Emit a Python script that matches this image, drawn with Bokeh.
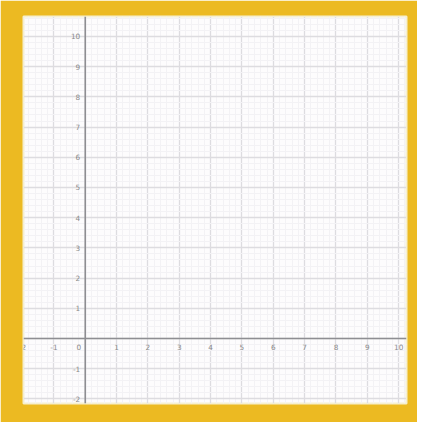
import numpy as np
from bokeh.plotting import figure
from bokeh.models import Span, FixedTicker, ColumnDataSource, Range1d
from bokeh.core.properties import value
from bokeh.embed import file_html
from bokeh.resources import INLINE

# Tick labels
x_ticks = [-2, -1, 1, 2, 3, 4, 5, 6, 7, 8, 9, 10]
x_labels = ["-2", "-1", "1", "2", "3", "4", "5", "6", "7", "8", "9", "10"]
y_ticks = [-2, -1, 1, 2, 3, 4, 5, 6, 7, 8, 9, 10]
y_labels = ["-2", "-1", "1", "2", "3", "4", "5", "6", "7", "8", "9", "10"]
origin_label = ["0"]

x_min, x_max = -1.97, 10.25
y_min, y_max = -2.15, 10.66

YELLOW = "#ECBA22"

p = figure(width=417, height=422, output_backend="svg", toolbar_location=None,
           x_range=Range1d(x_min, x_max), y_range=Range1d(y_min, y_max),
           min_border_left=23, min_border_right=11, min_border_top=16, min_border_bottom=19,
           x_axis_location=None, y_axis_location=None)
p.border_fill_color = YELLOW
p.background_fill_color = "#fdfcfd"
p.outline_line_color = "#f6efd0"
p.outline_line_width = 2

major = list(range(-3, 12))
minor = [round(v, 2) for v in np.arange(-3, 12, 0.2)]
for g in (p.xgrid, p.ygrid):
    g.ticker = FixedTicker(ticks=major, minor_ticks=minor)
    g.grid_line_color = "#dddce0"
    g.grid_line_width = 1.3
    g.minor_grid_line_color = "#f3f2f5"
    g.minor_grid_line_width = 1

p.add_layout(Span(location=0, dimension="width", line_color="#8e8e92", line_width=1.6))
p.add_layout(Span(location=0, dimension="height", line_color="#8e8e92", line_width=1.6))

fs = "5.5pt"
col = "#8a8a8a"
xs = ColumnDataSource(dict(x=x_ticks, y=[0] * len(x_ticks), t=x_labels))
p.text(x="x", y="y", text="t", source=xs, text_align="center", text_baseline="top",
       y_offset=5, text_font_size=fs, text_color=col, text_font=value("DejaVu Sans"))
ys = ColumnDataSource(dict(x=[0] * len(y_ticks), y=y_ticks, t=y_labels))
p.text(x="x", y="y", text="t", source=ys, text_align="right", text_baseline="middle",
       x_offset=-5, text_font_size=fs, text_color=col, text_font=value("DejaVu Sans"))
os_ = ColumnDataSource(dict(x=[0], y=[0], t=origin_label))
p.text(x="x", y="y", text="t", source=os_, text_align="right", text_baseline="top",
       x_offset=-4, y_offset=5, text_font_size=fs, text_color=col, text_font=value("DejaVu Sans"))

open("out.html", "w").write(file_html(p, INLINE))
